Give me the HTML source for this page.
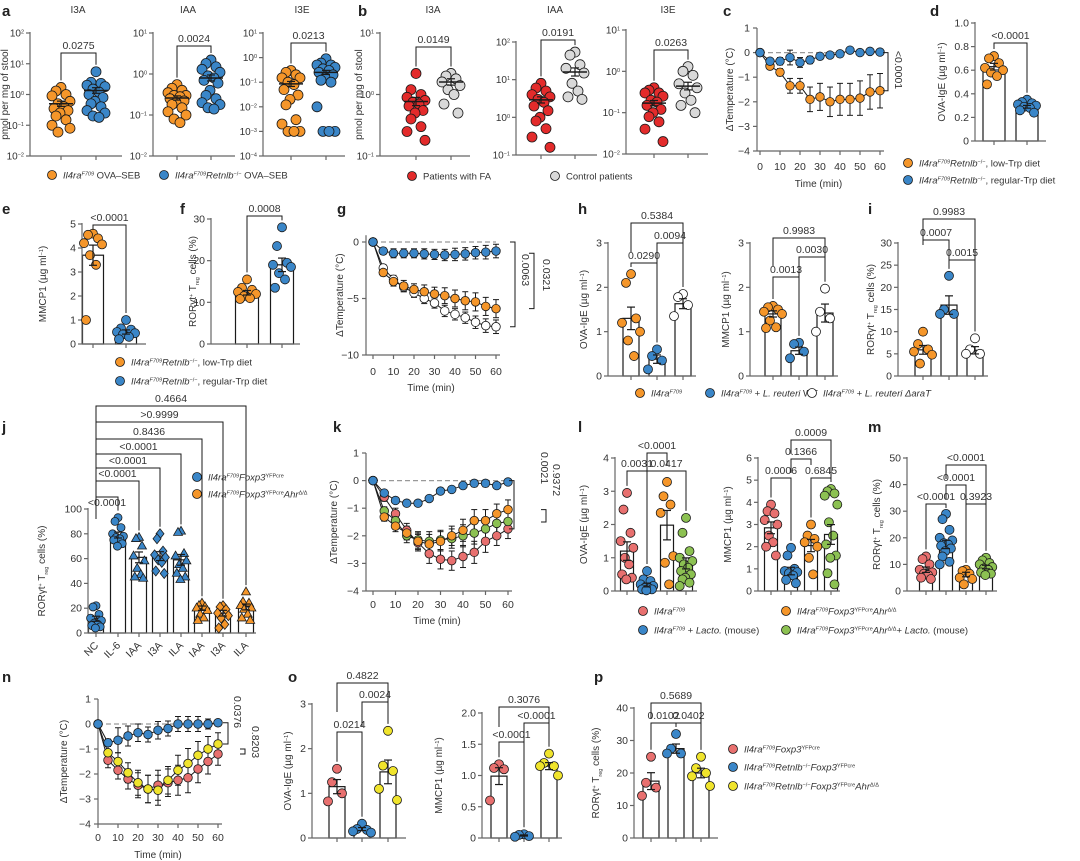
<!DOCTYPE html>
<html><head><meta charset="utf-8">
<style>
html,body{margin:0;padding:0;background:#fff;}
svg{display:block;font-family:"Liberation Sans",sans-serif;}
</style></head>
<body>
<svg id="fig" xmlns="http://www.w3.org/2000/svg" width="1080" height="861" viewBox="0 0 1080 861"></svg>
<script>
// ---------- DATA ----------
const timeMin=[0,5,10,15,20,25,30,35,40,45,50,55,60];
// a
const aI3A_ctrl=[1.7,1.3,1.0,0.9,0.6,0.5,0.4,0.35,0.3,0.25,0.2,0.15,0.1,0.08,0.06];
const aI3A_ko=[5.5,2.5,2.3,2.0,1.8,1.5,1.2,1.0,0.8,0.6,0.5,0.4,0.3,0.25,0.2,0.18];
const aIAA_ctrl=[0.55,0.45,0.4,0.35,0.3,0.3,0.28,0.25,0.22,0.2,0.18,0.15,0.12,0.1,0.08,0.065];
const aIAA_ko=[2.2,1.8,1.5,1.3,1.1,0.9,0.8,0.7,0.6,0.4,0.3,0.25,0.2,0.18,0.15,0.14];
const aI3E_ctrl=[0.3,0.25,0.2,0.15,0.15,0.1,0.08,0.05,0.03,0.02,0.012,0.003,0.002,0.001,0.001,0.001];
const aI3E_ko=[0.9,0.6,0.5,0.5,0.4,0.35,0.3,0.25,0.2,0.15,0.12,0.1,0.01,0.001,0.001,0.001];
const aMeans=[[0.5,1.35],[0.26,0.8],[0.085,0.25]];
// b
const bI3A_fa=[2.2,1.2,1.0,0.9,0.8,0.75,0.7,0.65,0.55,0.5,0.4,0.3,0.25,0.18];
const bI3A_ctl=[2.2,2.0,1.8,1.6,1.4,1.2,1.0,0.7,0.5];
const bIAA_fa=[8,6,5,4,3.5,3,2.5,2,1.5,1,0.8,0.5,0.3,0.16];
const bIAA_ctl=[54,45,25,20,15,8,5,3.5,3];
const bI3E_fa=[0.4,0.35,0.3,0.3,0.25,0.2,0.18,0.15,0.12,0.1,0.08,0.06,0.04,0.02];
const bI3E_ctl=[1.3,1.0,0.8,0.5,0.4,0.3,0.2,0.15,0.1];
const bMeans=[[0.77,1.6],[2.9,16],[0.17,0.44]];
// c
const cLow=[0,-0.55,-0.8,-1.35,-1.35,-1.9,-1.8,-2.0,-1.9,-1.9,-1.85,-1.6,-1.55];
const cLowErr=[0,0.1,0.15,0.3,0.3,0.5,0.55,0.6,0.65,0.65,0.7,0.7,0.7];
const cReg=[0,-0.35,-0.35,-0.2,-0.4,-0.3,-0.15,-0.1,-0.05,0.1,0,0.05,0.02];
const cRegErr=[0,0.1,0.15,0.3,0.2,0.15,0.1,0.08,0.07,0.1,0.08,0.05,0.05];
// d
const dLow=[0.72,0.7,0.66,0.62,0.6,0.58,0.55,0.48];
const dReg=[0.35,0.33,0.32,0.31,0.3,0.29,0.28,0.26,0.24];
const dBars=[0.63,0.29];
// e
const eLow=[4.6,4.55,4.4,4.2,4.15,3.7,3.3,1.0];
const eReg=[1.0,0.65,0.6,0.5,0.45,0.4,0.3,0.2];
const eBars=[3.7,0.5];
// f
const fLow=[15.5,13.5,13,12.5,12,11.5,11,10.8];
const fReg=[28,23.5,19.5,19,18.5,17,15.5,13.5];
const fBars=[12.3,19];
// g
const gReg=[0,-0.8,-1,-1,-1,-1.05,-1.1,-1.15,-1.1,-1.05,-0.95,-0.9,-0.8];
const gRegErr=[0,0.3,0.4,0.4,0.4,0.45,0.45,0.5,0.55,0.55,0.55,0.6,0.6];
const gLow=[0,-2.7,-3.5,-3.9,-4.2,-4.4,-4.6,-4.75,-5,-5.2,-5.3,-5.7,-5.9];
const gLowErr=[0,0.3,0.4,0.5,0.5,0.6,0.6,0.7,0.75,0.8,0.8,0.8,0.8];
const gWT=[0,-2.3,-3.3,-4.0,-4.5,-5.0,-5.4,-6.1,-6.4,-6.7,-7.1,-7.4,-7.5];
const gWTErr=[0,0.3,0.35,0.4,0.4,0.45,0.45,0.5,0.5,0.5,0.55,0.6,0.6];
// h
const hIgE_ctrl=[2.3,2.1,1.3,1.2,1.0,0.8,0.45];
const hIgE_wt=[0.6,0.45,0.35,0.15];
const hIgE_dA=[1.85,1.78,1.6,1.35];
const hIgE_bars=[1.3,0.38,1.63];
const hMM_ctrl=[1.58,1.55,1.5,1.45,1.4,1.25,1.1,1.08];
const hMM_wt=[0.75,0.72,0.55,0.4];
const hMM_dA=[1.97,1.45,1.3,1.0];
const hMM_bars=[1.4,0.57,1.42];
// i
const iCtrl=[10,7.2,6,5.5,4.8,2.8];
const iWT=[22.6,15,14,14];
const iDA=[8.5,6,5,5];
const iBars=[5.9,16,5.8];
// j
const jCats=["NC","IL-6","IAA","I3A","ILA","IAA","I3A","ILA"];
const jVals=[[22,21,15,12,10,8,7,6,5,4],[93,90,85,80,78,77,76,75,72,70],[77,76,70,62,58,52,47,45,44],[80,76,66,63,61,59,57,50,48],[82,81,64,62,58,55,52,48,45,43],[24,22,21,20,18,15,12,10],[22,21,19,16,14,12,7,4],[33,25,24,22,20,19,15,12,10]];
const jBars=[11.5,79,61,62,59,20,16,21];
const jPvals=["<0.0001","<0.0001","<0.0001","<0.0001","0.8436",">0.9999","0.4664"];
// k
const kReg=[0,-0.45,-0.72,-0.82,-0.82,-0.65,-0.38,-0.32,-0.18,-0.1,-0.1,-0.18,-0.05];
const kAhr=[0,-1.32,-1.65,-1.9,-2.2,-2.3,-2.2,-2.0,-1.8,-1.45,-1.45,-1.2,-1.05];
const kAhrL=[0,-1.1,-1.45,-2.0,-2.15,-2.2,-2.15,-2.1,-2.0,-1.9,-1.75,-1.55,-1.48];
const kCtrl=[0,-0.6,-1.2,-1.8,-2.25,-2.65,-2.85,-2.9,-2.75,-2.6,-2.2,-2.0,-1.75];
const kErr=[0,0.15,0.2,0.25,0.3,0.35,0.35,0.35,0.4,0.4,0.4,0.35,0.35];
// l
const lIgE=[[2.95,2.45,1.75,1.5,1.3,1.0,0.8,0.5,0.4,0.35],[0.6,0.35,0.3,0.2,0.15,0.1,0.08,0.05,0.05,0.02],[3.28,2.85,2.6,2.35,1.05,0.85,0.2],[2.2,1.75,1.2,1.0,0.9,0.8,0.7,0.6,0.5,0.4,0.35,0.25,0.15]];
const lIgE_bars=[1.2,0.18,1.98,0.83];
const lMM=[[3.9,3.6,3.5,3.2,3.0,2.5,2.2,2.0,1.6],[1.95,1.6,1.0,0.9,0.85,0.8,0.7,0.5,0.35],[3.0,2.5,2.35,2.2,2.0,1.5,0.75],[4.6,4.5,4.4,4.3,3.9,3.1,2.5,2.1,1.6,1.5,0.8,0.3]];
const lMM_bars=[2.85,0.9,2.05,2.55];
// m
const mVals=[[13,12,10,8,7,6.5,6,5,4.5],[29,27,23,20,19,18,17.5,17,16,15,13,11,10],[8,7.5,6.5,5,4.5,2.5],[12.5,11.5,10.5,10,9,8.5,8,7,6.5,6]];
const mBars=[8,17.5,6.2,9];
// n
const nReg=[0,-0.75,-0.65,-0.48,-0.35,-0.42,-0.25,-0.18,0,0,0,0,0.05];
const nRegErr=[0,0.15,0.5,0.4,0.35,0.3,0.35,0.3,0.3,0.3,0.3,0.2,0.1];
const nAhr=[0,-1.15,-1.5,-1.95,-2.35,-2.6,-2.65,-2.25,-1.85,-1.58,-1.25,-1.0,-0.8];
const nCtrl=[0,-1.45,-1.85,-2.2,-2.45,-2.6,-2.45,-2.35,-2.25,-2.15,-1.8,-1.5,-1.2];
const nErr=[0,0.3,0.35,0.4,0.5,0.55,0.6,0.55,0.6,0.6,0.55,0.5,0.45];
// o
const oIgE=[[1.55,1.25,1.0,0.82],[0.32,0.2,0.18,0.15,0.12],[2.4,1.62,1.5,1.1,0.85]];
const oIgE_bars=[1.15,0.2,1.48];
const oMM=[[1.18,1.12,1.1,0.6],[0.06,0.05,0.03,0.02],[1.35,1.2,1.15,1.15,1.0]];
const oMM_bars=[0.99,0.04,1.15];
// p
const pVals=[[25,17,15.5,13],[32,27.5,26,26],[25,21.5,20,19,16]];
const pBars=[17.5,27.5,20];

// ---------- HELPERS ----------
const NS='http://www.w3.org/2000/svg';
const svg=document.getElementById('fig');
const C={or:'#f5962a',bl:'#3a86c8',rd:'#e32b2b',gy:'#d9d9d9',pk:'#e8706f',gn:'#8cc152',ye:'#f0e42c',wh:'#ffffff'};
const AX='#666';
function mk(tag,attrs,parent){const e=document.createElementNS(NS,tag);for(const k in attrs)e.setAttribute(k,attrs[k]);(parent||svg).appendChild(e);return e;}
function tx(x,y,html,opt){opt=opt||{};const t=mk('text',{x:x,y:y,'font-size':opt.fs||10.5,'text-anchor':opt.anchor||'middle',fill:opt.fill||'#333'});
 if(opt.weight)t.setAttribute('font-weight',opt.weight);
 if(opt.rot!==undefined)t.setAttribute('transform','rotate('+opt.rot+' '+x+' '+y+')');
 t.innerHTML=html;return t;}
function sup(s){return '<tspan baseline-shift="super" font-size="5.5">'+s+'</tspan>';}
function sub(s){return '<tspan baseline-shift="sub" font-size="5.5">'+s+'</tspan>';}
function it(s){return '<tspan font-style="italic">'+s+'</tspan>';}
const JIT=[0,-5,5,-9,9,-3,3,-7,7,-1,-5,5,-9,9,-3,3];
function marker(shape,x,y,r,fill){let e;
 if(shape==='tri')e=mk('polygon',{points:(x)+','+(y-r-1)+' '+(x-r-0.5)+','+(y+r*0.7)+' '+(x+r+0.5)+','+(y+r*0.7)});
 else if(shape==='dia')e=mk('polygon',{points:x+','+(y-r-1)+' '+(x+r)+','+y+' '+x+','+(y+r+1)+' '+(x-r)+','+y});
 else e=mk('circle',{cx:x,cy:y,r:r});
 e.setAttribute('fill',fill);e.setAttribute('stroke','#1a1a1a');e.setAttribute('stroke-width','0.8');
 
 
 return e;}
function line(x1,y1,x2,y2,col,w,dash){const l=mk('line',{x1:x1,y1:y1,x2:x2,y2:y2,stroke:col||'#1a1a1a','stroke-width':w||1});if(dash)l.setAttribute('stroke-dasharray',dash);return l;}
function letter(x,y,s){const t=tx(x,y,s,{fs:15,weight:'bold',anchor:'start',fill:'#222'});
 
 }

// category panel (scatter+bars)
function catPanel(p){
 const g=mk('g',{});
 
 
 const lmin=p.log?Math.log10(p.min):p.min, lmax=p.log?Math.log10(p.max):p.max;
 const Y=v=>{const vv=p.log?Math.log10(Math.max(v,1e-9)):v;return p.bot-(vv-lmin)/(lmax-lmin)*(p.bot-p.top);};
 p.groups.forEach((gr,i)=>{
  if(p.bars){const r=mk('rect',{x:gr.cx-p.barW/2,y:Y(p.bars[i]),width:p.barW,height:p.bot-Y(p.bars[i]),fill:'#fff',stroke:'#1a1a1a','stroke-width':1.2},g);
   
   }
 });
 const ya=line(p.ax,p.top-1,p.ax,p.bot,AX,1.2);g.appendChild(ya);
 
 
 const xa=line(p.ax,p.bot,p.right,p.bot,AX,1.2);g.appendChild(xa);
 
 
 p.ticks.forEach((tv,i)=>{const y=Y(tv);g.appendChild(line(p.ax-4,y,p.ax,y,AX,1.2));
  const lbl=p.log?('10'+sup(p.tickLbl[i])):p.tickLbl[i];
  const t=tx(p.ax-6,y+3.5,lbl,{anchor:'end',fs:p.log?10:10.5});g.appendChild(t);
  
  });
 p.groups.forEach(gr=>{g.appendChild(line(gr.cx,p.bot,gr.cx,p.bot+4,AX,1.2));});
 p.groups.forEach((gr,i)=>{
  gr.vals.forEach((v,k)=>{g.appendChild(marker(gr.shape||'c',gr.cx+JIT[k%JIT.length]*(p.jit||1),Y(v),p.r||4.5,gr.color));});
 });
 p.groups.forEach((gr,i)=>{
  const m=p.bars?p.bars[i]:p.means[i];
  const n=gr.vals.length;const mu=gr.vals.reduce((a,b)=>a+b,0)/n;
  const sd=Math.sqrt(gr.vals.reduce((a,b)=>a+(b-mu)*(b-mu),0)/Math.max(1,n-1));
  let se=sd/Math.sqrt(n);
  let yHi,yLo;
  if(p.log){yHi=Y(m*(1+se/mu*0.9));yLo=Y(m/(1+se/mu*0.9));}else{yHi=Y(m+se);yLo=Y(Math.max(0,m-se));}
  g.appendChild(line(gr.cx,yHi,gr.cx,yLo,'#1a1a1a',1.2));
  g.appendChild(line(gr.cx-4,yHi,gr.cx+4,yHi,'#1a1a1a',1.2));
  g.appendChild(line(gr.cx-4,yLo,gr.cx+4,yLo,'#1a1a1a',1.2));
  if(!p.bars)g.appendChild(line(gr.cx-12,Y(m),gr.cx+12,Y(m),'#1a1a1a',1.5));
 });
 (p.brackets||[]).forEach(b=>{
  const x1=p.groups[b[0]].cx,x2=p.groups[b[1]].cx,y=b[2];
  const top1=Math.min(...p.groups[b[0]].vals.map(Y)),top2=Math.min(...p.groups[b[1]].vals.map(Y));
  const l1=b[4]!==undefined?b[4]:Math.max(y+4,top1-7), l2=b[5]!==undefined?b[5]:Math.max(y+4,top2-7);
  const pl=mk('polyline',{points:x1+','+l1+' '+x1+','+y+' '+x2+','+y+' '+x2+','+l2,fill:'none',stroke:'#1a1a1a','stroke-width':1},g);
  
  
  const t=tx((x1+x2)/2,b[6]!==undefined?b[6]:y-4,b[3],{});g.appendChild(t);
  
  
 });
 if(p.ylabel){const t=tx(p.ylabelX,(p.top+p.bot)/2,p.ylabel,{rot:-90,fs:10});g.appendChild(t);
  
  }
 if(p.title){const t=tx(p.titleX,13,p.title,{fs:10});g.appendChild(t);
  
  }
 return Y;
}

// time-course panel
function timePanel(p){
 const g=mk('g',{});
 
 
 const Y=v=>p.y1+(v-p.v1)/(p.v2-p.v1)*(p.y2-p.y1);
 const X=t=>p.t0+t/60*(p.t60-p.t0);
 const bot=Y(p.ymin),top=Y(p.ymax);
 const ya=line(p.ax,top,p.ax,bot,AX,1.2);g.appendChild(ya);
 
 
 const xa=line(p.ax,bot,X(60)+4,bot,AX,1.2);g.appendChild(xa);
 
 
 p.yticks.forEach(v=>{g.appendChild(line(p.ax-4,Y(v),p.ax,Y(v),AX,1.2));
  const t=tx(p.ax-7,Y(v)+3.5,v<0?'−'+(-v):String(v),{anchor:'end'});g.appendChild(t);
  
  });
 [0,10,20,30,40,50,60].forEach(v=>{g.appendChild(line(X(v),bot,X(v),bot+4,AX,1.2));
  const t=tx(X(v),p.xlblY,String(v),{});g.appendChild(t);
  
  });
 const xt=tx((p.ax+X(60))/2,p.xtitleY,'Time (min)',{fs:10});g.appendChild(xt);
 
 
 const yt=tx(p.ylabelX,(top+bot)/2,'ΔTemperature (°C)',{rot:-90,fs:10});g.appendChild(yt);
 
 
 g.appendChild(line(X(0),Y(0),X(60),Y(0),'#999',1.2,'5,3'));
 p.series.forEach(s=>{
  const pts=timeMin.map((t,i)=>X(t)+','+Y(s.vals[i])).join(' ');
  const pl=mk('polyline',{points:pts,fill:'none',stroke:'#1a1a1a','stroke-width':1},g);
  
  
  timeMin.forEach((t,i)=>{const e=s.err[i];if(e>0){const x=X(t);
   g.appendChild(line(x,Y(s.vals[i]+e),x,Y(s.vals[i]-e),'#1a1a1a',1));
   g.appendChild(line(x-3,Y(s.vals[i]+e),x+3,Y(s.vals[i]+e),'#1a1a1a',1));
   g.appendChild(line(x-3,Y(s.vals[i]-e),x+3,Y(s.vals[i]-e),'#1a1a1a',1));}});
 });
 p.series.forEach(s=>{timeMin.forEach((t,i)=>{g.appendChild(marker('c',X(t),Y(s.vals[i]),4.3,s.color));});});
 (p.brackets||[]).forEach(b=>{
  const pl=mk('polyline',{points:(b[0]-5)+','+Y(b[1])+' '+b[0]+','+Y(b[1])+' '+b[0]+','+Y(b[2])+' '+(b[0]-5)+','+Y(b[2]),fill:'none',stroke:'#1a1a1a','stroke-width':1},g);
  
  
  const t=tx(b[4],b[5],b[3],{rot:90});g.appendChild(t);
  
  
 });
}
function legendItem(x,y,color,html,nm){const c=marker('c',x,y,4.5,color);
 
 
 const t=tx(x+11,y+3.5,html,{anchor:'start',fs:9.5});
 
 }

const IL=it('Il4ra')+sup(it('F709'));
const RET=IL+it('Retnlb')+sup('−/−');
const FOX=IL+it('Foxp3')+sup('YFPcre');
const YL='pmol per mg of stool';
const IGE='OVA-IgE (µg ml'+sup('−1')+')';
const MM='MMCP1 (µg ml'+sup('−1')+')';
const ROR='RORγt'+sup('+')+' T'+sub('reg')+' cells (%)';

// ---------- PANEL a ----------
letter(2,16,'a');
const E2=['2','1','0','−1','−2'],E1=['1','0','−1','−2'];
catPanel({name:'panel-a-I3A',title:'I3A',titleX:78,ax:30,right:122,top:33,bot:156,min:0.01,max:100,log:true,ticks:[100,10,1,0.1,0.01],tickLbl:E2,r:5,
 groups:[{cx:61,vals:aI3A_ctrl,color:C.or},{cx:96,vals:aI3A_ko,color:C.bl}],means:aMeans[0],brackets:[[0,1,53,'0.0275']],ylabel:YL,ylabelX:8});
catPanel({name:'panel-a-IAA',title:'IAA',titleX:188,ax:153,right:235,top:33,bot:156,min:0.01,max:10,log:true,ticks:[10,1,0.1,0.01],tickLbl:E1,r:5,
 groups:[{cx:177,vals:aIAA_ctrl,color:C.or},{cx:211,vals:aIAA_ko,color:C.bl}],means:aMeans[1],brackets:[[0,1,46,'0.0024']]});
catPanel({name:'panel-a-I3E',title:'I3E',titleX:302,ax:263,right:345,top:33,bot:156,min:1e-4,max:10,log:true,ticks:[10,1,0.1,0.01,0.001,1e-4],tickLbl:['1','0','−1','−2','−3','−4'],r:5,
 groups:[{cx:291,vals:aI3E_ctrl,color:C.or},{cx:326,vals:aI3E_ko,color:C.bl}],means:aMeans[2],brackets:[[0,1,43,'0.0213']]});
legendItem(52,175,C.or,IL+' OVA–SEB','legend-entry-control');
legendItem(164,175,C.bl,RET+' OVA–SEB','legend-entry-retnlb-ko');

// ---------- PANEL b ----------
letter(358,16,'b');
catPanel({name:'panel-b-I3A',title:'I3A',titleX:433,ax:380,right:470,top:33,bot:156,min:0.1,max:10,log:true,ticks:[10,1,0.1],tickLbl:['1','0','−1'],r:5,
 groups:[{cx:416,vals:bI3A_fa,color:C.rd},{cx:451,vals:bI3A_ctl,color:C.gy}],means:bMeans[0],brackets:[[0,1,47,'0.0149']],ylabel:YL,ylabelX:362});
catPanel({name:'panel-b-IAA',title:'IAA',titleX:555,ax:516,right:597,top:42,bot:155,min:0.1,max:100,log:true,ticks:[100,10,1,0.1],tickLbl:['2','1','0','−1'],r:5,
 groups:[{cx:541,vals:bIAA_fa,color:C.rd},{cx:575,vals:bIAA_ctl,color:C.gy}],means:bMeans[1],brackets:[[0,1,40,'0.0191']]});
catPanel({name:'panel-b-I3E',title:'I3E',titleX:668,ax:626,right:708,top:30,bot:154,min:0.01,max:10,log:true,ticks:[10,1,0.1,0.01],tickLbl:E1,r:5,
 groups:[{cx:654,vals:bI3E_fa,color:C.rd},{cx:688,vals:bI3E_ctl,color:C.gy}],means:bMeans[2],brackets:[[0,1,50,'0.0263']]});
legendItem(412,176,C.rd,'Patients with FA','legend-entry-fa-patients');
legendItem(555,176,C.gy,'Control patients','legend-entry-control-patients');

// ---------- PANEL c ----------
letter(723,16,'c');
timePanel({name:'panel-c',ax:757,t0:760,t60:880,v1:1,y1:28,v2:-4,y2:151,ymax:1,ymin:-4,yticks:[1,0,-1,-2,-3,-4],xlblY:170,xtitleY:187,ylabelX:733,
 series:[{vals:cLow,err:cLowErr,color:C.or},{vals:cReg,err:cRegErr,color:C.bl}],brackets:[[888,0,-1.55,'<0.0001',895,70]]});

// ---------- PANEL d ----------
letter(930,16,'d');
catPanel({name:'panel-d',ax:975,right:1046,top:23,bot:141,min:0,max:1,ticks:[0,0.2,0.4,0.6,0.8,1.0],tickLbl:['0','0.2','0.4','0.6','0.8','1.0'],barW:22,
 groups:[{cx:994,vals:dLow,color:C.or},{cx:1027,vals:dReg,color:C.bl}],bars:dBars,brackets:[[0,1,43,'<0.0001']],ylabel:IGE,ylabelX:945});
legendItem(908,163,C.or,RET+', low-Trp diet','legend-entry-low-trp');
legendItem(908,180,C.bl,RET+', regular-Trp diet','legend-entry-regular-trp');

// ---------- PANEL e / f ----------
letter(2,214,'e');
catPanel({name:'panel-e',ax:82,right:146,top:224,bot:344,min:0,max:5,ticks:[0,1,2,3,4,5],tickLbl:['0','1','2','3','4','5'],barW:21,
 groups:[{cx:93,vals:eLow,color:C.or},{cx:126,vals:eReg,color:C.bl}],bars:eBars,brackets:[[0,1,225,'<0.0001',230]],ylabel:MM,ylabelX:46});
letter(180,214,'f');
catPanel({name:'panel-f',ax:211,right:300,top:219,bot:344,min:0,max:30,ticks:[0,10,20,30],tickLbl:['0','10','20','30'],barW:23,
 groups:[{cx:247,vals:fLow,color:C.or},{cx:282,vals:fReg,color:C.bl}],bars:fBars,brackets:[[0,1,216,'0.0008']],ylabel:ROR,ylabelX:196});
legendItem(120,362,C.or,RET+', low-Trp diet','legend-entry-low-trp-ef');
legendItem(120,381,C.bl,RET+', regular-Trp diet','legend-entry-regular-trp-ef');

// ---------- PANEL g ----------
letter(337,214,'g');
timePanel({name:'panel-g',ax:366,t0:373,t60:496,v1:0,y1:242,v2:-10,y2:355,ymax:0.6,ymin:-10,yticks:[0,-5,-10],xlblY:375,xtitleY:391,ylabelX:343,
 series:[{vals:gWT,err:gWTErr,color:C.wh},{vals:gLow,err:gLowErr,color:C.or},{vals:gReg,err:gRegErr,color:C.bl}],
 brackets:[[515,0,-7.5,'0.0063',522,270],[534,-1,-5.9,'0.0321',543,275]]});

// ---------- PANEL h ----------
letter(578,214,'h');
catPanel({name:'panel-h-ige',ax:608,right:696,top:243,bot:376,min:0,max:3,ticks:[0,1,2,3],tickLbl:['0','1','2','3'],barW:16,
 groups:[{cx:631,vals:hIgE_ctrl,color:C.or},{cx:657,vals:hIgE_wt,color:C.bl},{cx:683,vals:hIgE_dA,color:C.wh}],bars:hIgE_bars,
 brackets:[[0,1,263,'0.0290'],[1,2,243,'0.0094'],[0,2,223,'0.5384',252]],ylabel:IGE,ylabelX:587});
catPanel({name:'panel-h-mmcp1',ax:750,right:838,top:243,bot:376,min:0,max:3,ticks:[0,1,2,3],tickLbl:['0','1','2','3'],barW:16,
 groups:[{cx:773,vals:hMM_ctrl,color:C.or},{cx:799,vals:hMM_wt,color:C.bl},{cx:825,vals:hMM_dA,color:C.wh}],bars:hMM_bars,
 brackets:[[0,1,277,'0.0013'],[1,2,257,'0.0030'],[0,2,238,'0.9983',266]],ylabel:MM,ylabelX:729});
legendItem(640,393,C.or,IL,'legend-entry-il4ra');
legendItem(710,393,C.bl,IL+' + '+it('L. reuteri')+' WT','legend-entry-reuteri-wt');
legendItem(812,393,C.wh,IL+' + '+it('L. reuteri ΔaraT'),'legend-entry-reuteri-arat');

// ---------- PANEL i ----------
letter(868,214,'i');
catPanel({name:'panel-i',ax:898,right:988,top:243,bot:376,min:0,max:30,ticks:[0,5,10,15,20,25,30],tickLbl:['0','5','10','15','20','25','30'],barW:16,
 groups:[{cx:923,vals:iCtrl,color:C.or},{cx:949,vals:iWT,color:C.bl},{cx:975,vals:iDA,color:C.wh}],bars:iBars,
 brackets:[[0,1,240,'0.0007',245],[1,2,260,'0.0015'],[0,2,219,'0.9983',245]],ylabel:ROR,ylabelX:874});

// ---------- PANEL j ----------
letter(2,432,'j');
const jX=[96,118,139,160,181,202,223,246];
const jShapes=['c','c','tri','dia','tri','tri','dia','tri'];
const jGroups=jCats.map((c,i)=>({cx:jX[i],vals:jVals[i],color:i<5?C.bl:C.or,shape:jShapes[i]}));
const jBrY=[497,481,468,454,439,422,406];
const jTargets=[1,2,3,4,5,6,7];
catPanel({name:'panel-j',ax:88,right:256,top:509,bot:633,min:0,max:100,ticks:[0,20,40,60,80,100],tickLbl:['0','20','40','60','80','100'],barW:15,jit:0.6,r:4,
 groups:jGroups,bars:jBars,brackets:jTargets.map((t,k)=>[0,t,jBrY[k],jPvals[k],519,undefined,k===0?506:jBrY[k]-4]),ylabel:ROR,ylabelX:45});
jCats.forEach((c,i)=>{const t=tx(jX[i]+3,646,c,{anchor:'end',rot:-45});
 
 });
legendItem(197,477,C.bl,FOX,'legend-entry-foxp3');
legendItem(197,494,C.or,FOX+it('Ahr')+sup('Δ/Δ'),'legend-entry-foxp3-ahr');

// ---------- PANEL k ----------
letter(333,432,'k');
timePanel({name:'panel-k',ax:366,t0:373,t60:508,v1:1,y1:453,v2:-4,y2:591,ymax:1,ymin:-4,yticks:[1,0,-1,-2,-3,-4],xlblY:608,xtitleY:624,ylabelX:337,
 series:[{vals:kCtrl,err:kErr,color:C.pk},{vals:kAhrL,err:kErr,color:C.gn},{vals:kAhr,err:kErr,color:C.or},{vals:kReg,err:kErr.map(e=>e*0.3),color:C.bl}],
 brackets:[[514,0,-1.75,'0.0021',541,468],[546,-1.05,-1.5,'0.9372',553,480]]});

// ---------- PANEL l ----------
letter(578,432,'l');
const lColors=[C.pk,C.bl,C.or,C.gn];
catPanel({name:'panel-l-ige',ax:615,right:697,top:458,bot:591,min:0,max:4,ticks:[0,1,2,3,4],tickLbl:['0','1','2','3','4'],barW:13,jit:0.7,
 groups:[627,647,667,686].map((x,i)=>({cx:x,vals:lIgE[i],color:lColors[i]})),bars:lIgE_bars,
 brackets:[[0,1,471,'0.0031',undefined,undefined],[1,3,471,'0.0417'],[1,2,453,'<0.0001',undefined,466]],ylabel:IGE,ylabelX:587});
catPanel({name:'panel-l-mmcp1',ax:758,right:840,top:458,bot:591,min:0,max:6,ticks:[0,1,2,3,4,5,6],tickLbl:['0','1','2','3','4','5','6'],barW:13,jit:0.7,
 groups:[771,791,811,831].map((x,i)=>({cx:x,vals:lMM[i],color:lColors[i]})),bars:lMM_bars,
 brackets:[[0,1,478,'0.0006'],[2,3,478,'0.6845'],[1,2,459,'0.1366',473,465],[1,3,440,'0.0009',454]],ylabel:MM,ylabelX:731});
legendItem(643,611,C.pk,IL,'legend-entry-il4ra-l');
legendItem(643,630,C.bl,IL+' + '+it('Lacto.')+' (mouse)','legend-entry-lacto');
legendItem(786,611,C.or,FOX+it('Ahr')+sup('Δ/Δ'),'legend-entry-ahr');
legendItem(786,630,C.gn,FOX+it('Ahr')+sup('Δ/Δ')+'+ '+it('Lacto.')+' (mouse)','legend-entry-ahr-lacto');

// ---------- PANEL m ----------
letter(868,432,'m');
catPanel({name:'panel-m',ax:907,right:997,top:458,bot:591,min:0,max:50,ticks:[0,10,20,30,40,50],tickLbl:['0','10','20','30','40','50'],barW:13,jit:0.7,
 groups:[926,946,966,986].map((x,i)=>({cx:x,vals:mVals[i],color:lColors[i]})),bars:mBars,
 brackets:[[0,1,504,'<0.0001'],[2,3,504,'0.3923'],[1,2,485,'<0.0001',499],[1,3,465,'<0.0001',479]],ylabel:ROR,ylabelX:880});

// ---------- PANEL n ----------
letter(2,682,'n');
timePanel({name:'panel-n',ax:98,t0:98,t60:218,v1:1,y1:699,v2:-4,y2:824,ymax:1,ymin:-4,yticks:[1,0,-1,-2,-3,-4],xlblY:841,xtitleY:858,ylabelX:67,
 series:[{vals:nCtrl,err:nErr,color:C.pk},{vals:nAhr,err:nErr,color:C.ye},{vals:nReg,err:nRegErr,color:C.bl}],
 brackets:[[228,0.05,-0.8,'0.0376',234,712],[245,-1,-1.2,'0.8203',252,742]]});

// ---------- PANEL o ----------
letter(288,682,'o');
const oColors=[C.pk,C.bl,C.ye];
catPanel({name:'panel-o-ige',ax:312,right:406,top:704,bot:838,min:0,max:3,ticks:[0,1,2,3],tickLbl:['0','1','2','3'],barW:16,
 groups:[337,362,388].map((x,i)=>({cx:x,vals:oIgE[i],color:oColors[i]})),bars:oIgE_bars,
 brackets:[[0,1,732,'0.0214'],[1,2,702,'0.0024',727],[0,2,683,'0.4822',712]],ylabel:IGE,ylabelX:291});
catPanel({name:'panel-o-mmcp1',ax:482,right:562,top:713,bot:838,min:0,max:2,ticks:[0,0.5,1,1.5,2],tickLbl:['0','0.5','1.0','1.5','2.0'],barW:16,
 groups:[499,524,549].map((x,i)=>({cx:x,vals:oMM[i],color:oColors[i]})),bars:oMM_bars,
 brackets:[[0,1,742,'<0.0001'],[1,2,723,'<0.0001',745],[0,2,707,'0.3076',727]],ylabel:MM,ylabelX:442});

// ---------- PANEL p ----------
letter(594,682,'p');
catPanel({name:'panel-p',ax:634,right:718,top:708,bot:838,min:0,max:40,ticks:[0,10,20,30,40],tickLbl:['0','10','20','30','40'],barW:16,
 groups:[651,676,701].map((x,i)=>({cx:x,vals:pVals[i],color:oColors[i]})),bars:pBars,
 brackets:[[0,1,723,'0.0102'],[1,2,723,'0.0402'],[0,2,703,'0.5689',719]],ylabel:ROR,ylabelX:599});
legendItem(733,749,C.pk,FOX,'legend-entry-foxp3-p');
legendItem(733,767,C.bl,IL+it('Retnlb')+sup('−/−')+it('Foxp3')+sup('YFPcre'),'legend-entry-retnlb-foxp3');
legendItem(733,786,C.ye,IL+it('Retnlb')+sup('−/−')+it('Foxp3')+sup('YFPcre')+it('Ahr')+sup('Δ/Δ'),'legend-entry-retnlb-foxp3-ahr');
</script>
</body></html>
